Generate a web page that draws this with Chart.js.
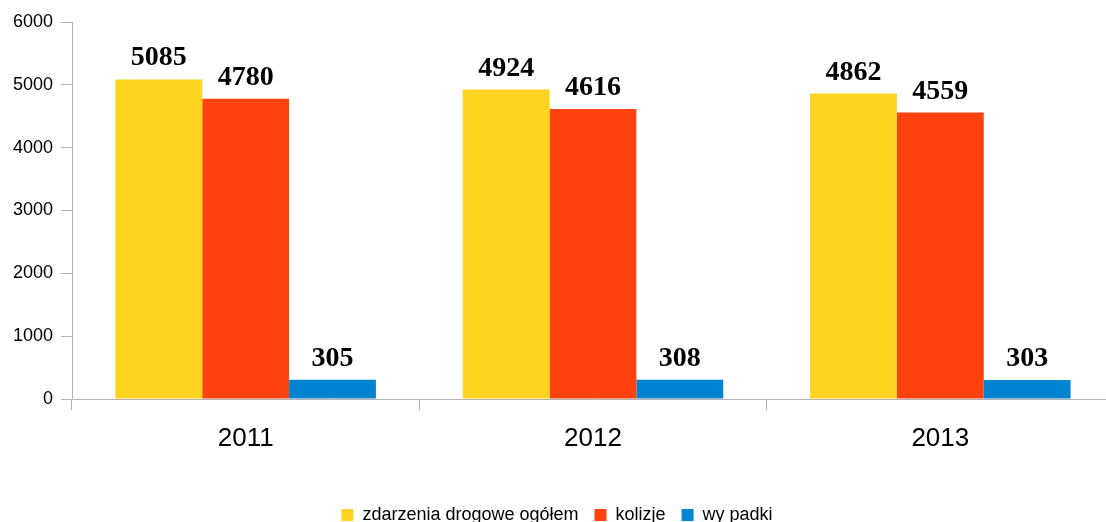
<!DOCTYPE html>
<html>
<head>
<meta charset="utf-8">
<script src="https://cdn.jsdelivr.net/npm/chart.js@4/dist/chart.umd.min.js"></script>
<style>
  html, body { margin: 0; padding: 0; background: #fff; overflow: hidden; }
  #wrap { width: 1106px; height: 522px; overflow: hidden; }
</style>
</head>
<body>
<div id="wrap"><canvas id="chart" width="1114" height="534"></canvas></div>
<script>
const years = ['2011', '2012', '2013'];
const zdarzenia = [5085, 4924, 4862];
const kolizje = [4780, 4616, 4559];
const wypadki = [305, 308, 303];
const yTicks = [0, 1000, 2000, 3000, 4000, 5000, 6000];

const axisGray = '#b3b3b3';

// value labels above each bar
const barLabels = {
  id: 'barLabels',
  afterDatasetsDraw(chart) {
    const ctx = chart.ctx;
    ctx.save();
    ctx.font = 'bold 28px "Liberation Serif", "Times New Roman", serif';
    ctx.fillStyle = '#000';
    ctx.textAlign = 'center';
    ctx.textBaseline = 'alphabetic';
    chart.data.datasets.forEach((ds, i) => {
      chart.getDatasetMeta(i).data.forEach((bar, j) => {
        ctx.fillText(String(ds.data[j]), bar.x, bar.y - 14);
      });
    });
    ctx.restore();
  }
};

new Chart(document.getElementById('chart'), {
  type: 'bar',
  data: {
    labels: years,
    datasets: [
      { label: 'zdarzenia drogowe ogółem', data: zdarzenia, backgroundColor: '#ffd320' },
      { label: 'kolizje', data: kolizje, backgroundColor: '#ff420e' },
      { label: 'wy padki', data: wypadki, backgroundColor: '#0084d1' }
    ]
  },
  options: {
    responsive: false,
    animation: false,
    devicePixelRatio: 1,
    layout: { padding: { top: 22, right: 0, left: 0, bottom: 0 } },
    datasets: { bar: { categoryPercentage: 0.75, barPercentage: 1.0 } },
    plugins: {
      legend: {
        position: 'bottom',
        labels: {
          font: { family: '"Liberation Sans", Arial, sans-serif', size: 18 },
          color: '#000',
          boxWidth: 12,
          boxHeight: 12,
          padding: 16
        }
      },
      tooltip: { enabled: false }
    },
    scales: {
      x: {
        grid: { drawOnChartArea: false, color: axisGray, tickLength: 11, offset: true },
        border: { color: axisGray },
        ticks: {
          font: { family: '"Liberation Sans", Arial, sans-serif', size: 26 },
          color: '#000',
          padding: 13
        },
        afterFit(scale) { scale.height = 91; }
      },
      y: {
        min: 0,
        max: 6000,
        afterBuildTicks(scale) { scale.ticks = yTicks.map(v => ({ value: v })); },
        grid: { drawOnChartArea: false, color: axisGray, tickLength: 11 },
        border: { color: axisGray },
        ticks: {
          font: { family: '"Liberation Sans", Arial, sans-serif', size: 18 },
          color: '#000',
          padding: 8,
          callback: (v) => String(v)
        },
        afterFit(scale) { scale.width = 72; }
      }
    }
  },
  plugins: [barLabels]
});
</script>
</body>
</html>
